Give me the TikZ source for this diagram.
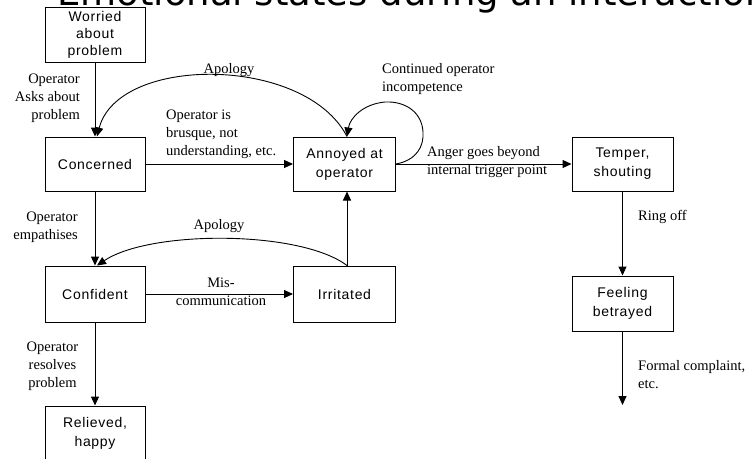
\documentclass[tikz,border=0pt]{standalone}
\usepackage{fontspec}
\usetikzlibrary{arrows.meta}
\newfontfamily\titlefont{DejaVu Sans}
\newfontfamily\boxfont[LetterSpace=5]{Liberation Sans}
\newfontfamily\labelfont{Liberation Serif}

\begin{document}
\begin{tikzpicture}[x=1pt,y=-1pt,
  state/.style={draw, line width=1pt, minimum width=100pt, minimum height=55pt,
    inner sep=0pt, align=center, font=\boxfont\fontsize{14}{19}\selectfont},
  lbl/.style={inner sep=0pt, font=\labelfont\fontsize{14.5}{18}\selectfont},
  flow/.style={line width=1pt, -{Triangle[length=9pt,width=8pt]}},
  curveflow/.style={line width=0.9pt, -{Triangle[length=9pt,width=8pt]}},
]
\clip (0,0) rectangle (755,458);
\fill[white] (0,0) rectangle (755,458);

% heading
\node[anchor=base west, inner sep=0pt, font=\titlefont\fontsize{37}{40}\selectfont]
  (title) at (57,5.5) {Emotional states during an interaction};

% states
\node[state, font=\boxfont\fontsize{14}{17}\selectfont] (worried) at (95,34.5) {Worried\\about\\problem};
\node[state, minimum height=54pt] (concerned) at (95,164) {Concerned};
\node[state, minimum width=102pt, minimum height=54pt] (annoyed) at (344.5,164) {Annoyed at\\operator};
\node[state, minimum width=101pt, minimum height=54pt] (temper) at (622.5,164) {Temper,\\shouting};
\node[state, minimum height=56pt] (confident) at (95,294) {Confident};
\node[state, minimum width=102pt, minimum height=56pt] (irritated) at (344.5,294) {Irritated};
\node[state, minimum width=101pt] (feeling) at (622.5,303.5) {Feeling\\betrayed};
\node[state] (relieved) at (95,433.5) {Relieved,\\happy};
\coordinate (complaint) at (622.5,405);

% transition labels
\node[lbl, align=right, anchor=east] (lasks) at (80,98.5) {Operator\\Asks about\\problem};
\node[lbl, align=left, anchor=west] (lbrusque) at (166,134) {Operator is\\brusque, not\\understanding, etc.};
\node[lbl] (lapology1) at (229,70) {Apology};
\node[lbl, align=left, anchor=west] (lcontinued) at (382,79) {Continued operator\\incompetence};
\node[lbl, align=left, anchor=west] (langer) at (427,162.5) {Anger goes beyond\\internal trigger point};
\node[lbl, anchor=west] (lring) at (638,217) {Ring off};
\node[lbl, align=right, anchor=east] (lempath) at (78,227) {Operator\\empathises};
\node[lbl] (lapology2) at (219,226) {Apology};
\node[lbl, align=center] (lmis) at (221,291.5) {Mis-\\communication};
\node[lbl, align=center] (lresolves) at (52.5,366) {Operator\\resolves\\problem};
\node[lbl, align=left, anchor=west] (lformal) at (638,375) {Formal complaint,\\etc.};

% straight transitions
\draw[flow] (worried) -- (concerned);
\draw[flow] (concerned) -- (annoyed);
\draw[flow] (annoyed) -- (temper);
\draw[flow] (temper) -- (feeling);
\draw[flow] (feeling) -- (complaint);
\draw[flow] (concerned) -- (confident);
\draw[flow] (confident) -- (irritated);
\draw[flow] ([xshift=2.5pt]irritated.north) -- ([xshift=2.5pt]annoyed.south);
\draw[flow] (confident) -- (relieved);

% curved transitions
\draw[curveflow] ([xshift=2.5pt]annoyed.north) .. controls (305,55) and (118,55) .. ([xshift=2pt]concerned.north);
\draw[curveflow] (annoyed.east) .. controls (417,160) and (424,146) .. (423,132)
  .. controls (422,112) and (405,101) .. (385,102)
  .. controls (363,104) and (350,118) .. ([xshift=2.5pt]annoyed.north);
\draw[curveflow] ([xshift=2.5pt]irritated.north) .. controls (300,230) and (150,230) .. ([xshift=2pt]confident.north);
\end{tikzpicture}
\end{document}
